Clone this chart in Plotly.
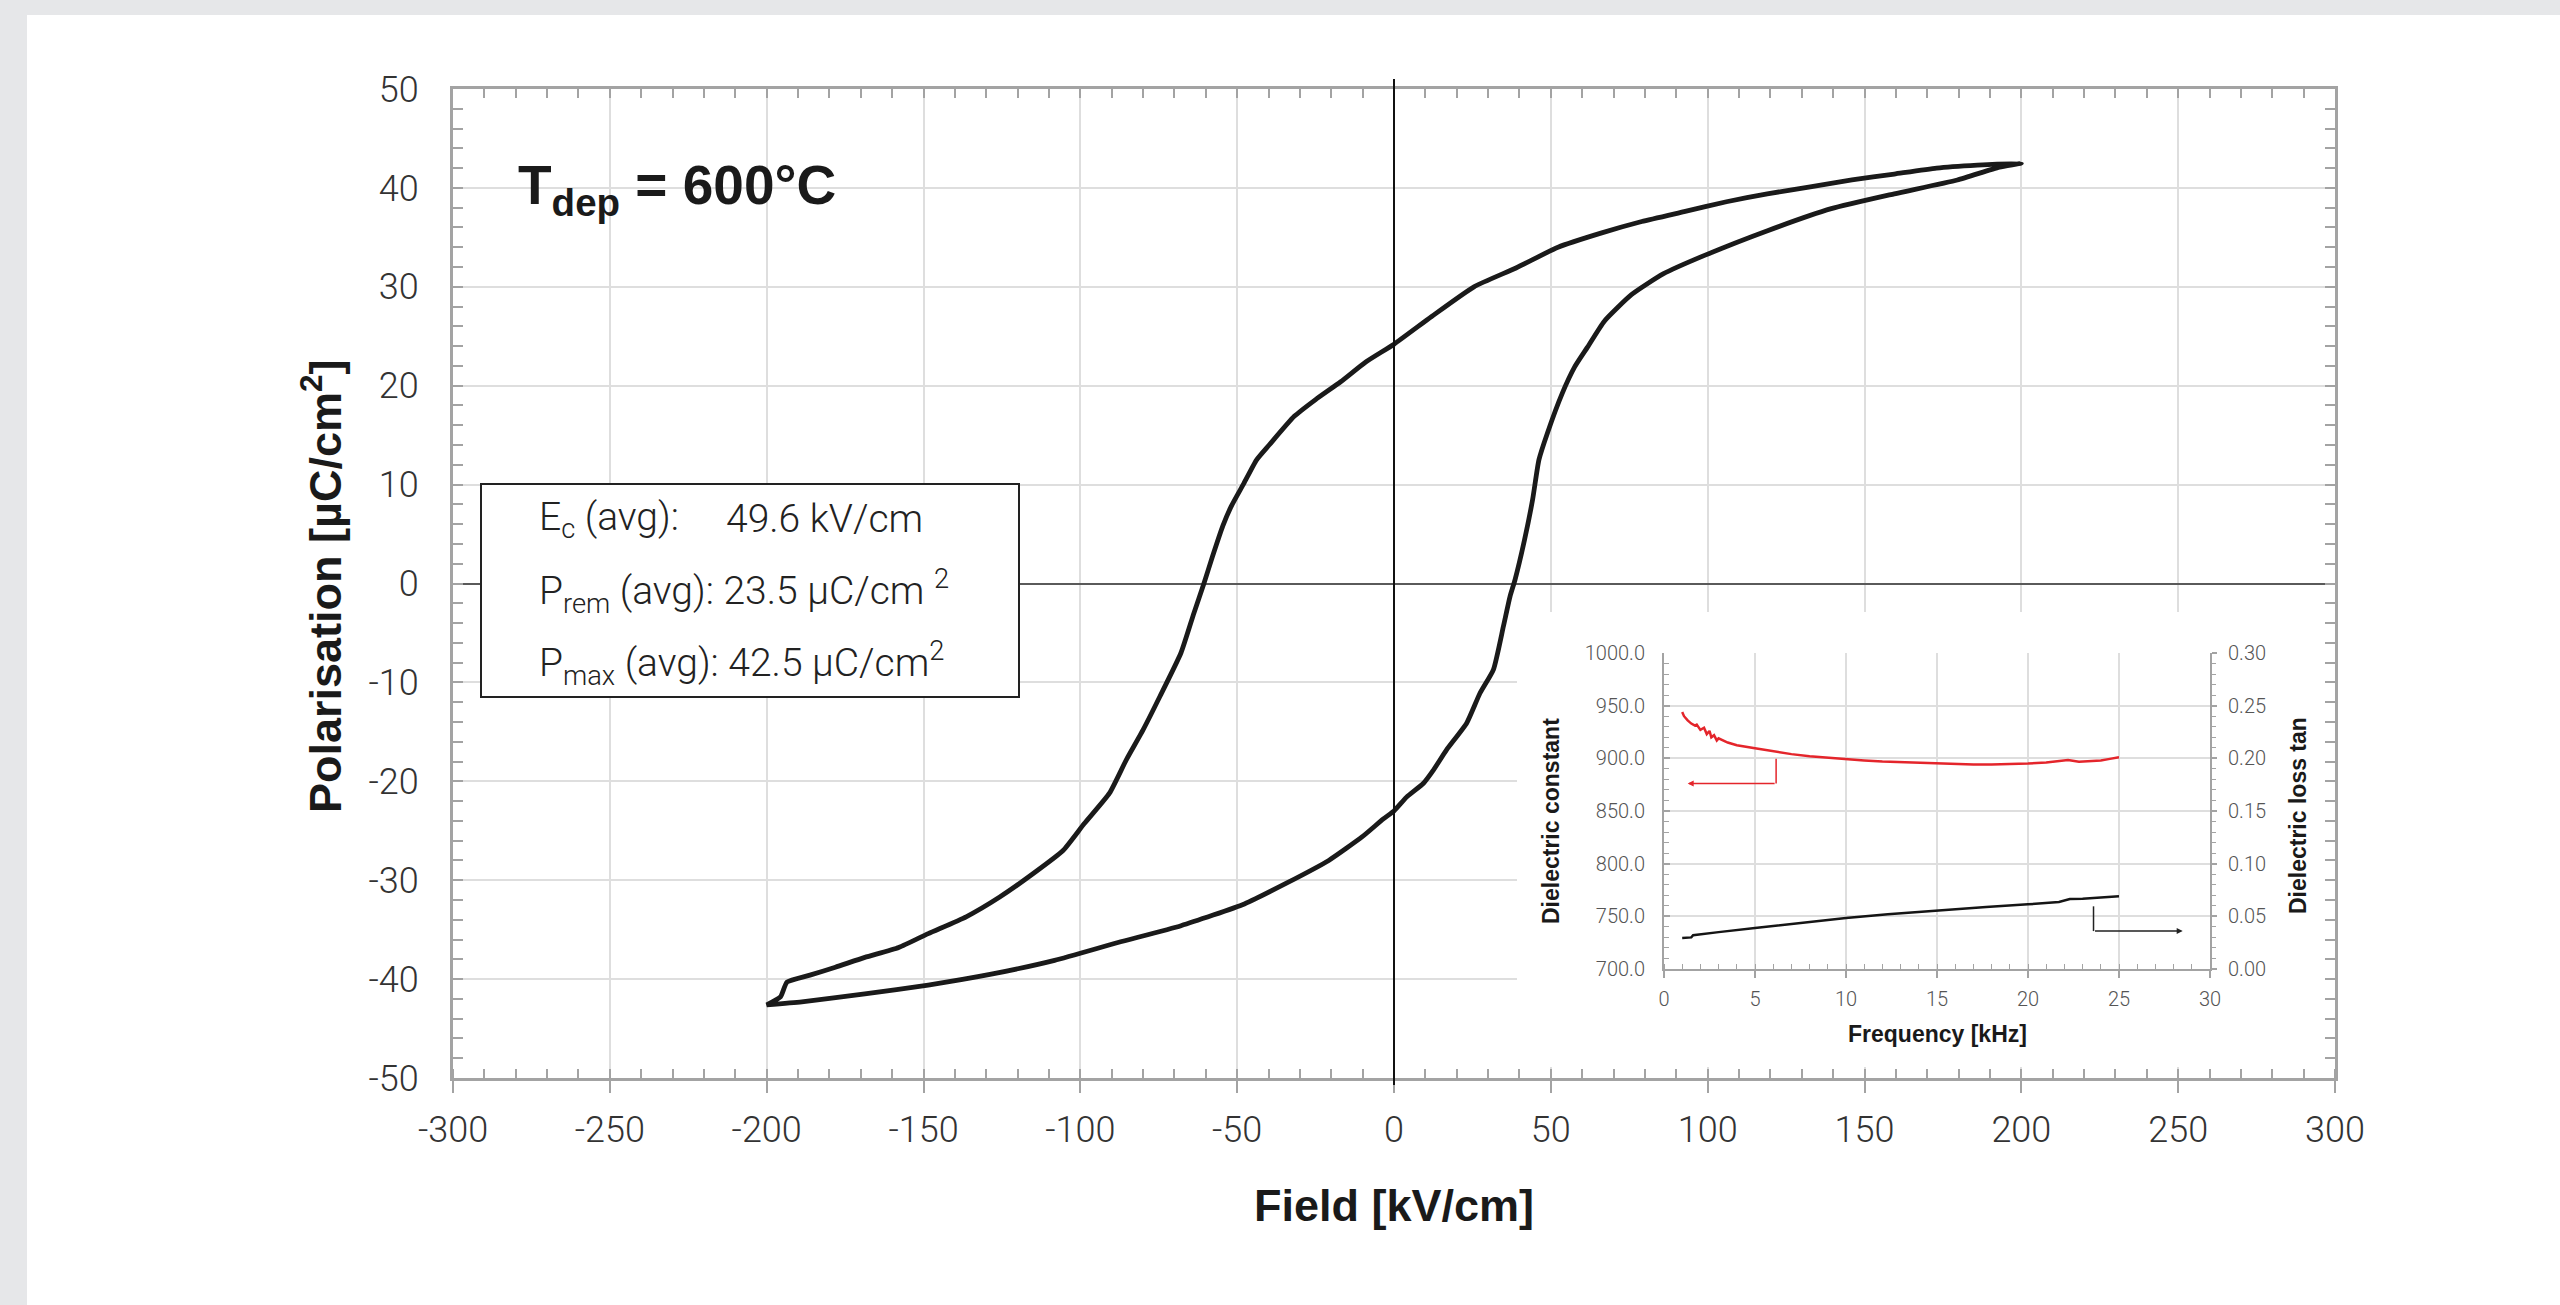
import plotly.graph_objects as go

# ---------------- data ----------------
# hysteresis loop: descending (upper) branch from +200 kV/cm to -200 kV/cm
upper_field = [200, 186, 173, 159.5, 146, 132.7, 119, 106, 92.5, 79, 65.7, 52.3, 38.9, 25.5, 12, 0,
               -9, -17, -25, -31.8, -39.8, -43.8, -47.9, -51.9, -54.6, -57.9, -60.6, -63.8, -67.9,
               -74.6, -80, -85.3, -90.7, -98.8, -105.5, -114.9, -125.7, -136.4, -148.5, -157.9,
               -168.7, -178.1, -186.2, -193.5, -195.6, -200]
upper_pol = [42.5, 42.3, 42.0, 41.4, 40.8, 40.1, 39.4, 38.6, 37.6, 36.6, 35.4, 34.0, 31.9, 30.0, 27.0, 24.2,
             22.4, 20.4, 18.6, 16.9, 14.0, 12.5, 10.1, 7.8, 5.8, 2.7, 0.0, -3.0, -7.0,
             -11.4, -14.8, -17.8, -21.2, -24.3, -27.0, -29.3, -31.7, -33.7, -35.4, -36.8,
             -37.8, -38.8, -39.6, -40.3, -41.8, -42.6]
# ascending (lower) branch from -200 kV/cm back to +200 kV/cm
lower_field = [-200, -188.8, -168.7, -148.5, -128.4, -108.2, -88, -67.9, -47.7, -34.3, -20.8, -10.1, -3.4, 0,
               4, 9.4, 12.5, 16.8, 23.2, 27.4, 31.7, 34.9, 37, 38.6, 41.6, 44.2, 46.2, 48.9, 53.6, 57.6,
               61.7, 67, 75.7, 85.8, 99.2, 119.3, 139.4, 159.5, 179.6, 193, 200]
lower_pol = [-42.6, -42.3, -41.5, -40.6, -39.5, -38.1, -36.3, -34.6, -32.4, -30.3, -28.0, -25.6, -23.8, -23.0,
             -21.6, -20.2, -18.9, -16.8, -14.1, -11.1, -8.7, -4.3, -1.3, 0.4, 4.4, 8.5, 12.5, 15.2, 19.2, 21.9,
             23.9, 26.5, 29.2, 31.3, 33.2, 35.7, 37.9, 39.4, 40.8, 42.1, 42.5]

# axis tick labels
field_ticks = [-300, -250, -200, -150, -100, -50, 0, 50, 100, 150, 200, 250, 300]
field_tick_text = ['-300', '-250', '-200', '-150', '-100', '-50', '0', '50', '100', '150', '200', '250', '300']
pol_ticks = [-50, -40, -30, -20, -10, 0, 10, 20, 30, 40, 50]
pol_tick_text = ['-50', '-40', '-30', '-20', '-10', '0', '10', '20', '30', '40', '50']

# inset: dielectric constant and loss tangent vs frequency
freq_eps = [1.0, 1.1, 1.3, 1.5, 1.7, 1.8, 2.0, 2.2, 2.35, 2.5, 2.6, 2.75, 2.9, 3.0, 3.5, 4.0, 5.0, 6.0, 7.0,
            8.0, 9.0, 10.0, 11.0, 12.0, 13.0, 14.0, 15.0, 16.0, 17.0, 18.0, 19.0, 20.0, 21.0, 21.6, 22.2,
            22.8, 23.3, 24.0, 24.5, 25.0]
eps = [944, 940, 936, 933, 931, 932, 927, 929, 923, 926, 920, 922, 917, 919, 915, 912.5, 909.5, 906.5, 904,
       902, 900.5, 899.3, 898, 897, 896.3, 895.7, 895, 894.5, 894.2, 894.2, 894.4, 895, 896, 897.5, 898.5,
       896.8, 897.5, 898, 899.5, 901]
freq_tan = [1.0, 1.5, 1.6, 2.0, 3.0, 5.0, 7.0, 10.0, 12.3, 15.0, 17.7, 20.0, 21.7, 22.3, 23.0, 25.0]
loss_tan = [0.0295, 0.030, 0.032, 0.033, 0.035, 0.039, 0.043, 0.0484, 0.052, 0.0557, 0.0589, 0.0614,
            0.0636, 0.0665, 0.0667, 0.069]

# pointer callouts in the inset (frequency, value)
red_pointer_x = [6.16, 6.16, 1.3]
red_pointer_y = [899.5, 876, 876]
black_pointer_x = [23.6, 23.6, 28.5]
black_pointer_y = [0.0595, 0.036, 0.036]

# text box values
box_lines = ["E<sub>c</sub> (avg):", "49.6 kV/cm",
             "P<sub>rem</sub> (avg): 23.5 µC/cm <sup>2</sup>",
             "P<sub>max</sub> (avg): 42.5 µC/cm<sup>2</sup>"]

# mask for the inset panel (unit square in its own axes)
mask_x = [0, 1, 1, 0, 0]
mask_y = [0, 0, 1, 1, 0]

# ---------------- styling ----------------
W, H = 2560, 1305
AX = '#a3a3a3'
GRID = '#dedede'
TICKFONT = dict(family='Roboto', size=36, color='#333333', weight=300)
SMALLFONT = dict(family='Roboto', size=20, color='#555555', weight=300)
BOXFONT = dict(family='Roboto', size=39, color='#222222', weight=300)
BOLD = 'Liberation Sans'

def px(x):
    return x / W

def py(y):
    return 1 - y / H

fig = go.Figure()

# main loop
fig.add_trace(go.Scatter(x=upper_field + lower_field, y=upper_pol + lower_pol, mode='lines',
                         line=dict(color='#1a1a1a', width=4.8, shape='spline', smoothing=0.5),
                         xaxis='x', yaxis='y', hoverinfo='skip', showlegend=False))
# dummy for top tick overlay axis
fig.add_trace(go.Scatter(x=[None], y=[None], xaxis='x4', yaxis='y', showlegend=False, hoverinfo='skip'))
# white mask behind inset
fig.add_trace(go.Scatter(x=mask_x, y=mask_y, mode='lines', fill='toself', fillcolor='white',
                         line=dict(width=0, color='white'), xaxis='x2', yaxis='y2',
                         hoverinfo='skip', showlegend=False))
# inset traces
fig.add_trace(go.Scatter(x=freq_eps, y=eps, mode='lines', line=dict(color='#e4252b', width=2.5),
                         xaxis='x3', yaxis='y3', hoverinfo='skip', showlegend=False))
fig.add_trace(go.Scatter(x=freq_tan, y=loss_tan, mode='lines', line=dict(color='#151515', width=2.5),
                         xaxis='x3', yaxis='y4', hoverinfo='skip', showlegend=False))

main_x_dom = [px(453), px(2335)]
main_y_dom = [py(1078), py(89)]
inset_x_dom = [px(1664), px(2210)]
inset_y_dom = [py(969), py(653)]

fig.update_layout(
    width=W, height=H,
    margin=dict(l=0, r=0, t=0, b=0, pad=0, autoexpand=False),
    paper_bgcolor='#e6e7e9', plot_bgcolor='white',
    showlegend=False,
    xaxis=dict(domain=main_x_dom, range=[-300, 300], tickmode='array', tickvals=field_ticks,
               ticktext=field_tick_text, anchor='y', automargin=False,
               showgrid=True, gridcolor=GRID, gridwidth=2, zeroline=False,
               showline=True, linecolor=AX, linewidth=3, mirror=True,
               ticks='outside', ticklen=12, tickwidth=2, tickcolor=AX,
               minor=dict(ticks='inside', dtick=10, tick0=0, ticklen=9, tickwidth=2, tickcolor=AX,
                          showgrid=False),
               tickfont=TICKFONT, ticklabelstandoff=6),
    xaxis4=dict(domain=main_x_dom, range=[-300, 300], overlaying='x', side='top', anchor='y',
                showgrid=False, zeroline=False, showline=False, showticklabels=False, automargin=False,
                ticks='inside', dtick=10, tick0=0, ticklen=9, tickwidth=2, tickcolor=AX),
    yaxis=dict(domain=main_y_dom, range=[-50, 50], tickmode='array', tickvals=pol_ticks,
               ticktext=pol_tick_text, anchor='x', automargin=False,
               showgrid=True, gridcolor=GRID, gridwidth=2,
               zeroline=True, zerolinecolor='#5a5a5a', zerolinewidth=2,
               showline=True, linecolor=AX, linewidth=3, mirror='ticks',
               ticks='inside', ticklen=10, tickwidth=2, tickcolor=AX,
               minor=dict(ticks='inside', dtick=2, tick0=0, ticklen=10, tickwidth=2, tickcolor=AX,
                          showgrid=False),
               tickfont=TICKFONT, ticklabelstandoff=24),
    xaxis2=dict(domain=[px(1517), px(2325)], range=[0, 1], visible=False, anchor='y2', fixedrange=True),
    yaxis2=dict(domain=[py(1067), py(612)], range=[0, 1], visible=False, anchor='x2', fixedrange=True),
    xaxis3=dict(domain=inset_x_dom, range=[0, 30], dtick=5, anchor='y3', automargin=False,
                showgrid=True, gridcolor=GRID, gridwidth=1.5, zeroline=False,
                showline=True, linecolor=AX, linewidth=2,
                ticks='outside', ticklen=7, tickwidth=1.5, tickcolor=AX,
                minor=dict(ticks='inside', dtick=1, ticklen=5, tickwidth=1, tickcolor=AX, showgrid=False),
                tickfont=SMALLFONT, ticklabelstandoff=4),
    yaxis3=dict(domain=inset_y_dom, range=[700, 1000], dtick=50, tickformat='.1f', anchor='x3',
                automargin=False,
                showgrid=True, gridcolor=GRID, gridwidth=1.5, zeroline=False,
                showline=True, linecolor=AX, linewidth=2,
                ticks='inside', ticklen=6, tickwidth=1.5, tickcolor=AX,
                minor=dict(ticks='inside', dtick=10, ticklen=5, tickwidth=1, tickcolor=AX, showgrid=False),
                tickfont=SMALLFONT, ticklabelstandoff=13),
    yaxis4=dict(domain=inset_y_dom, range=[0, 0.3], dtick=0.05, tickformat='.2f', anchor='x3',
                overlaying='y3', side='right', showgrid=False, zeroline=False, automargin=False,
                showline=True, linecolor=AX, linewidth=2,
                ticks='outside', ticklen=5, tickwidth=1.5, tickcolor=AX,
                minor=dict(ticks='outside', dtick=0.01, ticklen=4, tickwidth=1, tickcolor=AX, showgrid=False),
                tickfont=SMALLFONT, ticklabelstandoff=7),
)

shapes = [
    # white page panel over gray frame
    dict(type='rect', xref='paper', yref='paper', x0=px(27), x1=1.0, y0=0, y1=py(15),
         fillcolor='white', line=dict(width=0), layer='below'),
    # vertical zero line (extends slightly beyond the plot)
    dict(type='line', xref='x', yref='paper', x0=0, x1=0, y0=py(1085), y1=py(79),
         line=dict(color='#111111', width=2), layer='above'),
    # text box
    dict(type='rect', xref='paper', yref='paper', x0=px(481), x1=px(1019), y0=py(697), y1=py(484),
         fillcolor='white', line=dict(color='#222222', width=2), layer='above'),
    # inset pointer verticals
    dict(type='line', xref='x3', yref='y3', x0=red_pointer_x[0], x1=red_pointer_x[1],
         y0=red_pointer_y[0], y1=red_pointer_y[1], line=dict(color='#e4252b', width=1.5)),
    dict(type='line', xref='x3', yref='y4', x0=black_pointer_x[0], x1=black_pointer_x[1],
         y0=black_pointer_y[0], y1=black_pointer_y[1], line=dict(color='#222222', width=1.5)),
]

annotations = [
    # pointer arrows
    dict(xref='x3', yref='y3', axref='x3', ayref='y3', x=red_pointer_x[2], y=red_pointer_y[2],
         ax=red_pointer_x[1], ay=red_pointer_y[1], text='', showarrow=True, arrowhead=2,
         arrowsize=0.8, arrowwidth=1.5, arrowcolor='#e4252b'),
    dict(xref='x3', yref='y4', axref='x3', ayref='y4', x=black_pointer_x[2], y=black_pointer_y[2],
         ax=black_pointer_x[1], ay=black_pointer_y[1], text='', showarrow=True, arrowhead=2,
         arrowsize=0.8, arrowwidth=1.5, arrowcolor='#222222'),
    # title inside plot
    dict(xref='paper', yref='paper', x=px(516), y=py(189), xanchor='left', yanchor='middle',
         text='T<sub>dep</sub> = 600°C', showarrow=False,
         font=dict(family=BOLD, size=55, color='#1a1a1a', weight='bold')),
    # text box lines
    dict(xref='paper', yref='paper', x=px(537), y=py(519), xanchor='left', yanchor='middle',
         text=box_lines[0], showarrow=False, font=BOXFONT),
    dict(xref='paper', yref='paper', x=px(724), y=py(519), xanchor='left', yanchor='middle',
         text=box_lines[1], showarrow=False, font=BOXFONT),
    dict(xref='paper', yref='paper', x=px(537), y=py(591), xanchor='left', yanchor='middle',
         text=box_lines[2], showarrow=False, font=BOXFONT),
    dict(xref='paper', yref='paper', x=px(537), y=py(663), xanchor='left', yanchor='middle',
         text=box_lines[3], showarrow=False, font=BOXFONT),
    # axis titles
    dict(xref='paper', yref='paper', x=px(1394), y=py(1205), xanchor='center', yanchor='middle',
         text='Field [kV/cm]', showarrow=False,
         font=dict(family=BOLD, size=45, color='#1a1a1a', weight='bold')),
    dict(xref='paper', yref='paper', x=px(322), y=py(586), xanchor='center', yanchor='middle',
         text='Polarisation [µC/cm<sup>2</sup>]', textangle=-90, showarrow=False,
         font=dict(family=BOLD, size=45, color='#1a1a1a', weight='bold')),
    # inset titles
    dict(xref='paper', yref='paper', x=px(1551), y=py(821), xanchor='center', yanchor='middle',
         text='Dielectric constant', textangle=-90, showarrow=False,
         font=dict(family=BOLD, size=23, color='#1a1a1a', weight='bold')),
    dict(xref='paper', yref='paper', x=px(1937), y=py(1034), xanchor='center', yanchor='middle',
         text='Frequency [kHz]', showarrow=False,
         font=dict(family=BOLD, size=23, color='#1a1a1a', weight='bold')),
    dict(xref='paper', yref='paper', x=px(2298), y=py(816), xanchor='center', yanchor='middle',
         text='Dielectric loss tan', textangle=-90, showarrow=False,
         font=dict(family=BOLD, size=23, color='#1a1a1a', weight='bold')),
]

fig.update_layout(shapes=shapes, annotations=annotations)
fig.write_html('out.html')
